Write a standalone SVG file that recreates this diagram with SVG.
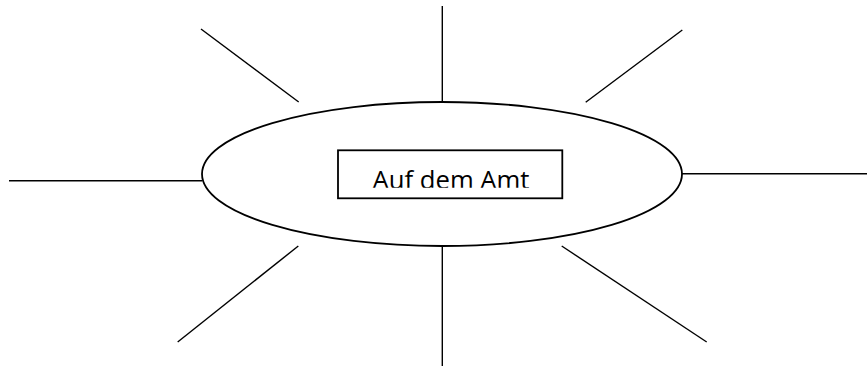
<svg xmlns="http://www.w3.org/2000/svg" width="867" height="367" viewBox="0 0 867 367">
<style>
.ray{stroke:#000;stroke-width:1.4;fill:none}
.shape{stroke:#000;stroke-width:1.8;fill:#fff}
.lbl{font-family:"Open Sans","Noto Sans",sans-serif;font-size:25.5px;fill:#000}
</style>
<defs>
<clipPath id="txtclip"><rect x="339" y="151" width="222" height="36.8"/></clipPath>
</defs>
<rect width="867" height="367" fill="#fff"/>
<g id="connectors">
<line class="ray" x1="442.3" y1="6" x2="442.3" y2="102"/>
<line class="ray" x1="201" y1="29" x2="298.7" y2="102"/>
<line class="ray" x1="682.3" y1="30" x2="585.7" y2="102.3"/>
<line class="ray" x1="9" y1="180.8" x2="202" y2="180.8"/>
<line class="ray" x1="682" y1="173.7" x2="867" y2="173.7"/>
<line class="ray" x1="298.3" y1="246" x2="177.7" y2="342"/>
<line class="ray" x1="561.7" y1="246" x2="706.7" y2="342"/>
<line class="ray" x1="442.3" y1="246" x2="442.3" y2="366"/>
</g>
<g id="ellipse-node">
<ellipse class="shape" cx="442" cy="174" rx="240" ry="72"/>
</g>
<g id="label-node">
<rect class="shape" x="338" y="150.3" width="224.3" height="48"/>
<text class="lbl" x="372.5" y="189.3" textLength="157" lengthAdjust="spacingAndGlyphs" clip-path="url(#txtclip)">Auf dem Amt</text>
</g>
</svg>
